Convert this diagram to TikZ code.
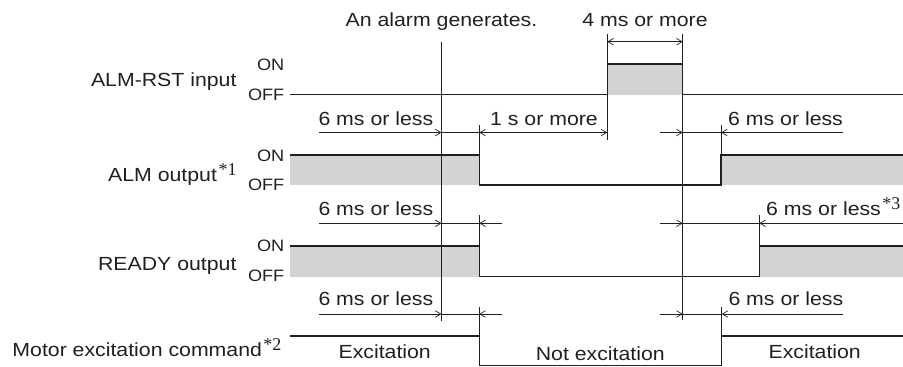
\documentclass[tikz,border=0pt]{standalone}
\usepackage{fontspec}
\setmainfont{Liberation Sans}[FakeStretch=1.12]
\newfontfamily\onofffont{Liberation Sans}[FakeStretch=1.1]
\newfontfamily\notefont{Liberation Serif}
\usetikzlibrary{arrows.meta}
\definecolor{linec}{RGB}{35,31,32}
\definecolor{grayfill}{RGB}{210,211,213}
\newcommand{\fnote}[1]{\hspace{1.5pt}\raisebox{6pt}{\notefont\fontsize{18}{18}\selectfont *#1}}
\tikzset{
  wave/.style={line width=1.2pt, draw=linec},
  thinline/.style={line width=0.75pt, draw=linec},
  dimline/.style={line width=0.7pt, draw=linec, arrows={-Straight Barb[length=5.5pt,width=6.5pt]}},
  dimboth/.style={line width=0.7pt, draw=linec, arrows={Straight Barb[length=5.5pt,width=6.5pt]-Straight Barb[length=5.5pt,width=6.5pt]}},
  txt/.style={inner sep=0pt, text=linec, font=\fontsize{19}{21}\selectfont},
  onoff/.style={inner sep=0pt, text=linec, font=\onofffont\fontsize{16.5}{18}\selectfont, anchor=base east},
  gfill/.style={fill=grayfill, draw=none}
}
\begin{document}
\begin{tikzpicture}[x=1pt,y=-1pt]
\useasboundingbox (0,0) rectangle (903,367);

% gray fills
\fill[gfill] (607.3,64) rectangle (682.7,94.7);
\fill[gfill] (290,155) rectangle (479.3,185);
\fill[gfill] (721,155) rectangle (903,185);
\fill[gfill] (290,246) rectangle (479.3,276.7);
\fill[gfill] (759.3,246) rectangle (903,276.7);

% reference vertical lines
\draw[thinline] (441.5,41.7) -- (441.5,320.7);
\draw[thinline] (682.7,34.3) -- (682.7,320);
\draw[thinline] (607.3,34.3) -- (607.3,140);
\draw[thinline] (479.3,125) -- (479.3,155);
\draw[thinline] (721,125) -- (721,155);
\draw[thinline] (479.3,215) -- (479.3,246);
\draw[thinline] (759.3,215) -- (759.3,246);
\draw[thinline] (479.3,306.7) -- (479.3,336);
\draw[thinline] (721.7,306.7) -- (721.7,336);

% waveforms
\draw[wave] (290,94.7) -- (607.3,94.7) -- (607.3,64) -- (682.7,64) -- (682.7,94.7) -- (903,94.7);
\draw[wave] (290,155) -- (479.3,155) -- (479.3,185) -- (721,185) -- (721,155) -- (903,155);
\draw[wave] (290,246) -- (479.3,246) -- (479.3,276.7) -- (759.3,276.7) -- (759.3,246) -- (903,246);
\draw[wave] (290,336) -- (479.3,336) -- (479.3,365.7) -- (721.7,365.7) -- (721.7,336) -- (903,336);

% top dimension
\draw[dimboth] (607.3,41.7) -- (682.7,41.7);

% row 1 dimensions
\draw[dimline] (319,132.5) -- (441.5,132.5);
\draw[thinline] (441.5,132.5) -- (479.3,132.5);
\draw[dimboth] (479.3,132.5) -- (607.3,132.5);
\draw[dimline] (660,132.5) -- (682.7,132.5);
\draw[thinline] (682.7,132.5) -- (721,132.5);
\draw[dimline] (843,132.5) -- (721,132.5);

% row 2 dimensions
\draw[dimline] (319,223.3) -- (441.5,223.3);
\draw[thinline] (441.5,223.3) -- (479.3,223.3);
\draw[dimline] (501.7,223.3) -- (479.3,223.3);
\draw[dimline] (660,223.3) -- (682.7,223.3);
\draw[thinline] (682.7,223.3) -- (759.3,223.3);
\draw[dimline] (903,223.3) -- (759.3,223.3);

% row 3 dimensions
\draw[dimline] (319,314) -- (441.5,314);
\draw[thinline] (441.5,314) -- (479.3,314);
\draw[dimline] (501.7,314) -- (479.3,314);
\draw[dimline] (660,314) -- (682.7,314);
\draw[thinline] (682.7,314) -- (721.7,314);
\draw[dimline] (843.3,314) -- (721.7,314);

% top labels
\node[txt, anchor=base] (alarm) at (441.5,26.7) {An alarm generates.};
\node[txt, anchor=base] (fourms) at (645,26.7) {4 ms or more};

% dimension labels
\node[txt, anchor=base west] (d1a) at (318.3,125) {6 ms or less};
\node[txt, anchor=base west] (d1b) at (490,125) {1 s or more};
\node[txt, anchor=base west] (d1c) at (728,125) {6 ms or less};
\node[txt, anchor=base west] (d2a) at (318.3,215) {6 ms or less};
\node[txt, anchor=base west] (d2b) at (766,215) {6 ms or less\fnote{3}};
\node[txt, anchor=base west] (d3a) at (318.3,305) {6 ms or less};
\node[txt, anchor=base west] (d3b) at (728.3,305) {6 ms or less};

% motor state labels
\node[txt, anchor=base] (exc1) at (384.7,358) {Excitation};
\node[txt, anchor=base] (nexc) at (600.3,360) {Not excitation};
\node[txt, anchor=base] (exc2) at (814.7,358) {Excitation};

% row labels
\node[txt, anchor=base east] (lrst) at (236.7,86.7) {ALM-RST input};
\node[txt, anchor=base east] (lalm) at (236.7,181) {ALM output\fnote{1}};
\node[txt, anchor=base east] (lrdy) at (236.7,270) {READY output};
\node[txt, anchor=base east] (lmot) at (281.7,356.7) {Motor excitation command\fnote{2}};

% ON / OFF
\node[onoff] (on1) at (284.5,70.7) {ON};
\node[onoff] (off1) at (284.5,100) {OFF};
\node[onoff] (on2) at (284.5,161.7) {ON};
\node[onoff] (off2) at (284.5,190.7) {OFF};
\node[onoff] (on3) at (284.5,251.7) {ON};
\node[onoff] (off3) at (284.5,281.7) {OFF};
\end{tikzpicture}
\end{document}
